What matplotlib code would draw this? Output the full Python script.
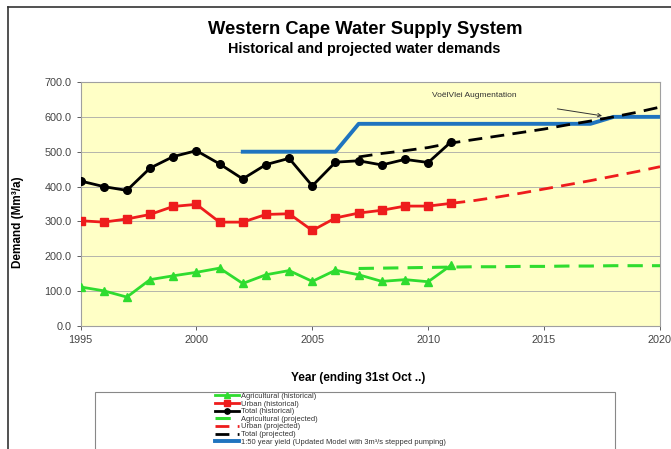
import matplotlib.pyplot as plt
from matplotlib.patches import Rectangle

plt.rcParams['font.family'] = ['Liberation Sans', 'DejaVu Sans']

# Historical data
hist_years = list(range(1995, 2012))
agri_hist = [112, 101, 83, 133, 144, 154, 166, 122, 147, 159, 128, 160, 147, 128, 133, 127, 175]
urban_hist = [302, 298, 307, 320, 343, 349, 298, 298, 320, 322, 274, 310, 324, 332, 344, 344, 352]
total_hist = [416, 400, 389, 453, 486, 503, 465, 422, 463, 481, 402, 470, 474, 462, 478, 469, 529]

# Projected data
agri_proj_years = list(range(2007, 2021))
agri_proj = [165, 166, 167, 168, 169, 170, 170, 171, 171, 172, 172, 173, 173, 173]
urban_proj_years = list(range(2011, 2021))
urban_proj = [352, 360, 370, 381, 393, 405, 417, 430, 443, 457]
total_proj_years = list(range(2007, 2021))
total_proj = [485, 495, 503, 512, 525, 535, 545, 555, 565, 577, 588, 600, 613, 628]

# 1:50 year yield
yield_years = [2002, 2006, 2007, 2017, 2018, 2020]
yield_vals = [500, 500, 580, 580, 600, 600]

green = '#2fdc2f'
red = '#ee1c1c'
blue = '#1f74bf'

fig = plt.figure(figsize=(6.71, 4.49), dpi=100)
fig.patch.set_facecolor('white')

# outer frame of the picture
fig.add_artist(plt.Line2D([8 / 671, 1], [1 - 7 / 449, 1 - 7 / 449], color='#333333', lw=1.2))
fig.add_artist(plt.Line2D([8 / 671, 8 / 671], [0, 1 - 7 / 449], color='#333333', lw=1.2))

ax = fig.add_axes([80.5 / 671, 1 - 326 / 449, 579.5 / 671, 244 / 449])
ax.set_facecolor('#ffffc6')

ax.plot(hist_years, agri_hist, color=green, lw=2, marker='^', ms=5.5, label='Agricultural (historical)', zorder=4)
ax.plot(hist_years, urban_hist, color=red, lw=2, marker='s', ms=5.5, label='Urban (historical)', zorder=4)
ax.plot(hist_years, total_hist, color='black', lw=2, marker='o', ms=5.5, label='Total (historical)', zorder=4)
ax.plot(agri_proj_years, agri_proj, color=green, lw=2.2, ls=(0, (5, 3)), label='Agricultural (projected)', zorder=3)
ax.plot(urban_proj_years, urban_proj, color=red, lw=2, ls=(0, (5, 3)), label='Urban (projected)', zorder=3)
ax.plot(total_proj_years, total_proj, color='black', lw=2, ls=(0, (5, 3)), label='Total (projected)', zorder=3)
ax.plot(yield_years, yield_vals, color=blue, lw=2.8, label='1:50 year yield (Updated Model with 3m³/s stepped pumping)', zorder=2)

ax.annotate('VoëlVlei Augmentation', xy=(2017.5, 603), xytext=(2012.0, 660),
            fontsize=6, color='#333333', ha='center', va='center',
            arrowprops=dict(arrowstyle='->', color='#333333', lw=0.7,
                            shrinkA=31, shrinkB=0))

ax.set_xlim(1995, 2020)
ax.set_ylim(0, 700)
ax.set_xticks([1995, 2000, 2005, 2010, 2015, 2020])
ax.set_yticks(range(0, 701, 100))
ax.set_yticklabels([f'{v:.1f}' for v in range(0, 701, 100)])
ax.tick_params(labelsize=7.8, colors='#444444', length=3, width=0.6)
ax.grid(axis='y', color='#a8a8a8', lw=0.6)
ax.set_axisbelow(True)
for s in ax.spines.values():
    s.set_color('#a0a0a0')
    s.set_linewidth(0.8)

fig.text(365 / 671, 1 - 30 / 449, 'Western Cape Water Supply System',
         fontsize=13.2, fontweight='bold', ha='center', va='center')
fig.text(364 / 671, 1 - 49 / 449, 'Historical and projected water demands',
         fontsize=10.4, fontweight='bold', ha='center', va='center')
fig.text(358 / 671, 1 - 378 / 449, 'Year (ending 31st Oct ..)',
         fontsize=8.5, fontweight='bold', ha='center', va='center')
fig.text(18 / 671, 1 - 222 / 449, 'Demand (Mm³/a)',
         fontsize=8.5, fontweight='bold', ha='center', va='center', rotation=90)

# legend box
fig.add_artist(Rectangle((95 / 671, -0.05), 520 / 671, 0.05 + 1 - 392 / 449,
                         transform=fig.transFigure, facecolor='white',
                         edgecolor='#888888', lw=0.8))
handles, labels = ax.get_legend_handles_labels()
leg = fig.legend(handles, labels, loc='upper left', bbox_to_anchor=(211 / 671, 1 - 389 / 449),
                 frameon=False, fontsize=5.4, handlelength=3.2, handletextpad=0.3,
                 labelspacing=0.05, borderpad=0, markerscale=0.7)
for t in leg.get_texts():
    t.set_color('#333333')

fig.savefig('out.png', dpi=100)
